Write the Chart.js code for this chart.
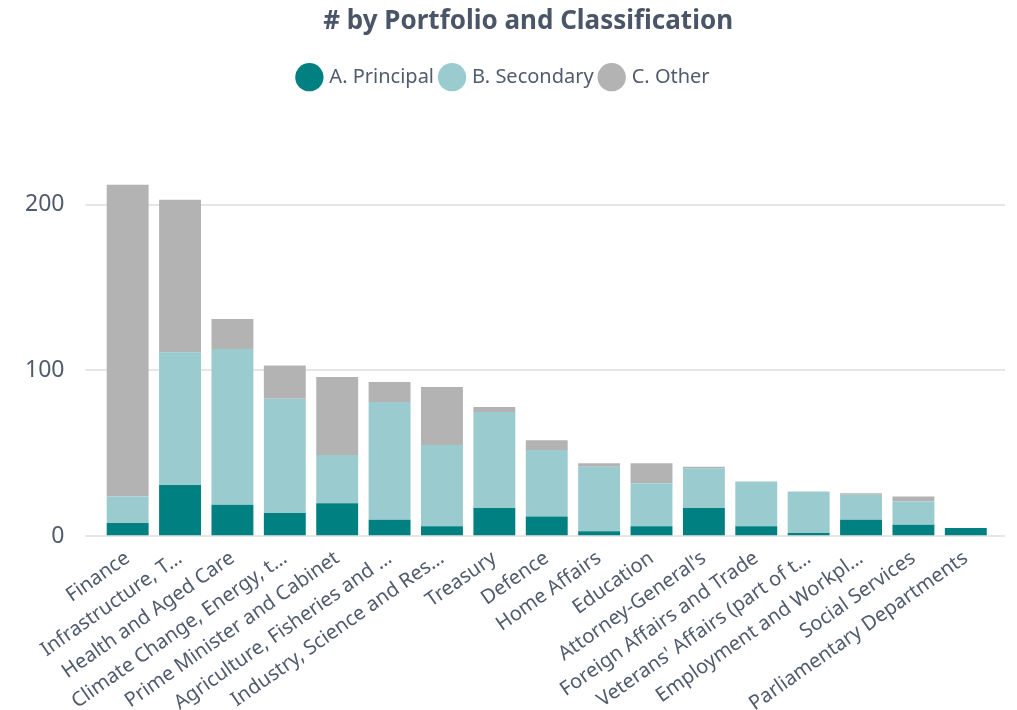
<!DOCTYPE html>
<html>
<head>
<meta charset="utf-8">
<script src="https://cdn.jsdelivr.net/npm/chart.js@4"></script>
<style>
  html, body { margin: 0; padding: 0; background: #fff; }
  #wrap { width: 1017px; height: 710px; }
</style>
</head>
<body>
<div id="wrap"><canvas id="portfolio-bar"></canvas></div>
<script>
// categories (as shown, truncated)
const portfolios = [
  "Finance", "Infrastructure, T…", "Health and Aged Care", "Climate Change, Energy, t…",
  "Prime Minister and Cabinet", "Agriculture, Fisheries and …", "Industry, Science and Res…",
  "Treasury", "Defence", "Home Affairs", "Education", "Attorney-General's",
  "Foreign Affairs and Trade", "Veterans' Affairs (part of t…", "Employment and Workpl…",
  "Social Services", "Parliamentary Departments"
];

const principal = [8, 31, 19, 14, 20, 10, 6, 17, 12, 3, 6, 17, 6, 2, 10, 7, 5];
const secondary = [16, 80, 94, 69, 29, 71, 49, 58, 40, 39, 26, 24, 27, 25, 15, 14, 0];
const other     = [188, 92, 18, 20, 47, 12, 35, 3, 6, 2, 12, 1, 0, 0, 1, 3, 0];

const yTicks = [0, 100, 200];

const textColor = "#505b6e";
const gridColor = "#e6e6e6";
const fontFamily = "'Segoe UI', 'Noto Sans', 'Open Sans', sans-serif";

document.addEventListener("DOMContentLoaded", () => {
  const ctx = document.getElementById("portfolio-bar").getContext("2d");

  const fixedTicks = (axis) => { axis.ticks = yTicks.map(v => ({ value: v })); };

  new Chart(ctx, {
    type: "bar",
    data: {
      labels: portfolios,
      datasets: [
        { label: "A. Principal", data: principal, backgroundColor: "#008080" },
        { label: "B. Secondary", data: secondary, backgroundColor: "#9acbcf" },
        { label: "C. Other", data: other, backgroundColor: "#b3b3b3" }
      ]
    },
    options: {
      responsive: true,
      maintainAspectRatio: false,
      animation: false,
      layout: { padding: { left: 4, right: 12, top: 6, bottom: -8 } },
      datasets: { bar: { barPercentage: 0.8, categoryPercentage: 1 } },
      plugins: {
        title: {
          display: true,
          // leading spaces nudge the title right, like the original
          text: "       # by Portfolio and Classification",
          color: "#4a5568",
          font: { family: fontFamily, size: 26, weight: "bold" },
          padding: { top: 0, bottom: 22 }
        },
        legend: {
          position: "top",
          labels: {
            usePointStyle: true,
            pointStyle: "circle",
            boxWidth: 20,
            boxHeight: 20,
            padding: 8,
            color: textColor,
            font: { family: fontFamily, size: 20 }
          }
        },
        tooltip: { enabled: false }
      },
      scales: {
        x: {
          stacked: true,
          grid: { display: false },
          border: { display: false },
          ticks: {
            color: textColor,
            font: { family: fontFamily, size: 20 },
            autoSkip: false,
            maxRotation: 35,
            minRotation: 35,
            padding: 2
          }
        },
        y: {
          stacked: true,
          min: 0,
          max: 225,
          afterBuildTicks: fixedTicks,
          grid: { color: gridColor, lineWidth: 2, drawTicks: true, tickLength: 16 },
          border: { display: false },
          ticks: {
            color: textColor,
            font: { family: fontFamily, size: 23 },
            padding: 21
          }
        },
        yRight: {
          position: "right",
          min: 0,
          max: 225,
          afterBuildTicks: fixedTicks,
          grid: { color: gridColor, lineWidth: 2, drawTicks: true, tickLength: 13 },
          border: { display: false },
          ticks: { display: false }
        }
      }
    },
    plugins: [{
      id: "legendGap",
      beforeInit(chart) {
        const fit = chart.legend.fit;
        chart.legend.fit = function () {
          fit.bind(chart.legend)();
          this.height += 66;
        };
      }
    }]
  });
});
</script>
</body>
</html>
